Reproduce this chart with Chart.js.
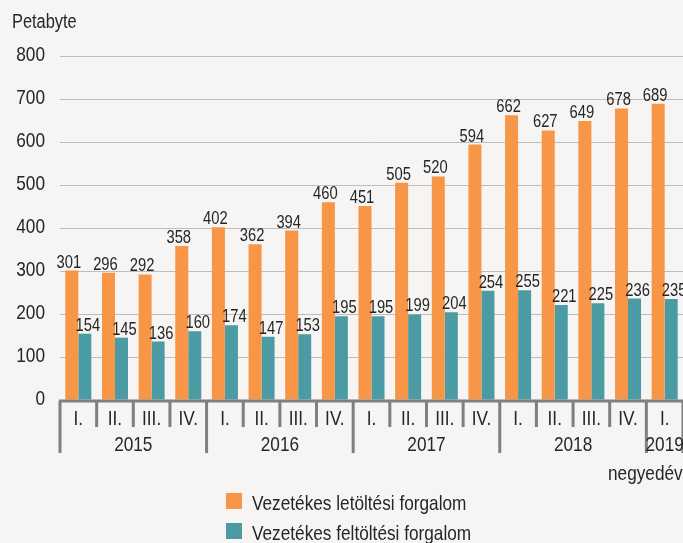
<!DOCTYPE html>
<html>
<head>
<meta charset="utf-8">
<script src="https://cdn.jsdelivr.net/npm/chart.js@4"></script>
<style>
  html, body { margin: 0; padding: 0; background: #f6f5f3; }
  canvas { display: block; }
</style>
</head>
<body>
<canvas id="c" width="683" height="543"></canvas>
<script>
// ─── DATA ────────────────────────────────────────────────────────────────────
const quarters = ['I.','II.','III.','IV.','I.','II.','III.','IV.','I.','II.','III.','IV.','I.','II.','III.','IV.','I.'];
const years = ['2015', '2016', '2017', '2018', '2019'];
const yearSizes = [4, 4, 4, 4, 1];
const download = [301, 296, 292, 358, 402, 362, 394, 460, 451, 505, 520, 594, 662, 627, 649, 678, 689];
const upload   = [154, 145, 136, 160, 174, 147, 153, 195, 195, 199, 204, 254, 255, 221, 225, 236, 235];
const seriesNames = ['Vezetékes letöltési forgalom', 'Vezetékes feltöltési forgalom'];
const yUnit = 'Petabyte';
const xUnit = 'negyedév';

// ─── STYLE ───────────────────────────────────────────────────────────────────
const FONT = "'Liberation Sans', Arial, sans-serif";
const NARROW = 0.82;            // no narrow face installed, squeeze it
const TEXT = '#262626';
const AXIS = '#7f7f7f';
const COLORS = ['#f79646', '#4a9ba4'];

function narrowText(ctx, text, x, y, size, align = 'left') {
  ctx.save();
  ctx.font = `${size}px ${FONT}`;
  ctx.fillStyle = TEXT;
  ctx.textAlign = align;
  ctx.textBaseline = 'alphabetic';
  ctx.translate(x, y);
  ctx.scale(NARROW, 1);
  ctx.fillText(text, 0, 0);
  ctx.restore();
}

// value labels above the bars
const valueLabels = {
  id: 'valueLabels',
  afterDatasetsDraw(chart) {
    const ctx = chart.ctx;
    chart.data.datasets.forEach((ds, di) => {
      const meta = chart.getDatasetMeta(di);
      const dx = di === 0 ? -3 : 3;
      meta.data.forEach((el, i) => narrowText(ctx, String(ds.data[i]), el.x + dx, el.y - 3, 18, 'center'));
    });
  }
};

// y labels, grouped x axis, legend, units
const frame = {
  id: 'frame',
  afterDraw(chart) {
    const ctx = chart.ctx, x = chart.scales.x, y = chart.scales.y, area = chart.chartArea;
    // y tick labels
    y.ticks.forEach(t => narrowText(ctx, String(t.value), 45, y.getPixelForValue(t.value) + 5, 21, 'right'));
    narrowText(ctx, yUnit, 12, 28, 20);

    const y0 = area.bottom + 1;
    const step = x.getPixelForValue(1) - x.getPixelForValue(0);
    const edge = i => x.getPixelForValue(i) - step / 2;
    ctx.save();
    ctx.strokeStyle = AXIS;
    ctx.lineWidth = 3;
    ctx.beginPath();
    ctx.moveTo(area.left - 1, y0); ctx.lineTo(area.right + 2, y0);
    ctx.stroke();
    const yearStarts = [];
    let acc = 0;
    yearSizes.forEach(n => { yearStarts.push(acc); acc += n; });
    yearStarts.push(acc);
    for (let i = 0; i <= quarters.length; i++) {
      const px = Math.min(edge(i), area.right + 1);
      const long = yearStarts.includes(i);
      ctx.beginPath();
      ctx.moveTo(px, y0); ctx.lineTo(px, y0 + (long ? 52 : 26));
      ctx.stroke();
    }
    ctx.restore();
    quarters.forEach((q, i) => narrowText(ctx, q, x.getPixelForValue(i), y0 + 24, 21, 'center'));
    years.forEach((yr, k) => {
      const a = edge(yearStarts[k]), b = edge(yearStarts[k + 1]);
      narrowText(ctx, yr, (a + b) / 2, y0 + 50, 21, 'center');
    });
    narrowText(ctx, xUnit, 608, 480, 21);

    // legend
    seriesNames.forEach((name, k) => {
      const top = 493 + k * 30;
      ctx.fillStyle = COLORS[k];
      ctx.fillRect(226, top, 16, 16);
      narrowText(ctx, name, 252, top + 17, 21);
    });
  }
};

new Chart(document.getElementById('c').getContext('2d'), {
  type: 'bar',
  data: {
    labels: quarters,
    datasets: [
      { label: seriesNames[0], data: download, backgroundColor: COLORS[0] },
      { label: seriesNames[1], data: upload, backgroundColor: COLORS[1] },
    ]
  },
  options: {
    responsive: false,
    animation: false,
    layout: { padding: { top: 56, right: 0, bottom: 143, left: 0 } },
    plugins: { legend: { display: false }, tooltip: { enabled: false } },
    datasets: { bar: { categoryPercentage: 0.71, barPercentage: 1 } },
    scales: {
      x: { display: false },
      y: {
        min: 0, max: 800,
        border: { display: false },
        grid: { color: '#bdbdbd', lineWidth: 1, drawTicks: false },
        ticks: { stepSize: 100, padding: 15, color: 'rgba(0,0,0,0)', font: { family: FONT, size: 19 } },
        afterFit(s) { s.width = 60; }
      }
    }
  },
  plugins: [valueLabels, frame]
});
</script>
</body>
</html>
